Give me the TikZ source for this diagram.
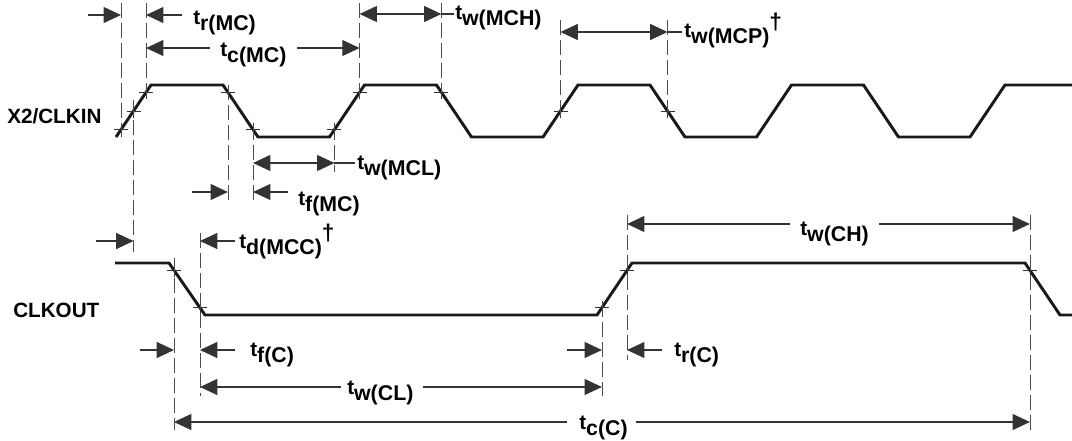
\documentclass[tikz,border=0pt]{standalone}
\usepackage{fontspec}
\setmainfont{Liberation Sans}
\usepackage{tikz}
\usetikzlibrary{arrows.meta,calc}

\newcommand{\tsub}[1]{t\lower5pt\hbox{\fontsize{16}{16}\selectfont #1}}
\newcommand{\dg}{\raisebox{5.5pt}{\fontsize{17}{17}\selectfont †}}

\tikzset{
  wave/.style={line width=2.2pt, black!90},
  guide/.style={line width=0.6pt, black!70, dash pattern=on 11pt off 4pt},
  tick/.style={line width=0.6pt, black!80},
  dimline/.style={line width=0.8pt, black!80},
  dimto/.style={dimline, {Triangle[length=13pt,width=12pt]}-},
  dimboth/.style={dimline, {Triangle[length=13pt,width=12pt]}-{Triangle[length=13pt,width=12pt]}},
  lbl/.style={font=\fontsize{15.5}{15.5}\selectfont\bfseries, inner sep=0pt, anchor=base west},
  sig/.style={font=\fontsize{15.5}{16}\selectfont\bfseries, inner sep=0pt, anchor=base west}
}

\begin{document}
\begin{tikzpicture}[x=0.75pt,y=-0.75pt]
\useasboundingbox (0,0) rectangle (1072,440);

% signals
\draw[wave] (116,137) \foreach \k in {0,1,2,3}{ -- ({151+213.5*\k},85) -- ({223+213.5*\k},85) -- ({258+213.5*\k},137) -- ({329.5+213.5*\k},137)} -- (1005,85) -- (1072,85);
\draw[wave] (115,263) -- (169,263) -- (205,315) -- (597,315) -- (632,263) -- (1025,263) -- (1060,315) -- (1072,315);
\node[sig] (clkin) at (7,123) {X2/CLKIN};
\node[sig] (clkout) at (13,317) {CLKOUT};

% reference points on the edges
\coordinate (r1a) at (120.9,129.7);
\coordinate (r1m) at (133.5,111);
\coordinate (r1b) at (146.1,92.3);
\coordinate (f1a) at (227.9,92.3);
\coordinate (f1b) at (253.1,129.7);
\coordinate (r2a) at (334.4,129.7);
\coordinate (r2b) at (359.6,92.3);
\coordinate (f2a) at (441.4,92.3);
\coordinate (r3m) at (560.5,111);
\coordinate (f3m) at (667.5,111);
\coordinate (c1a) at (174,270.3);
\coordinate (c1b) at (200,307.7);
\coordinate (c2a) at (601.9,307.7);
\coordinate (c2b) at (627.1,270.3);
\coordinate (c3a) at (1029.9,270.3);

\foreach \p in {r1a,r1m,r1b,f1a,f1b,r2a,r2b,f2a,r3m,f3m,c1a,c1b,c2a,c2b,c3a}
  \draw[tick] (\p) +(-7,0) -- +(7,0) +(0,-7) -- +(0,7);

\foreach \p/\a/\b in {r1a/3/136, r1m/100/252, r1b/3/97, f1a/85/200, f1b/125/205, r2a/125/172,
    r2b/3/97, f2a/3/97, r3m/20/117, f3m/20/117,
    c1a/258/430, c1b/233/396, c2a/302/396, c2b/215/360, c3a/215/430}
  \draw[guide] (\p |- 0,\a) -- (\p |- 0,\b);

% rows of the dimension lines
\coordinate (yA) at (0,15);
\coordinate (yB) at (0,48);
\coordinate (yC) at (0,14);
\coordinate (yD) at (0,32);
\coordinate (yE) at (0,163);
\coordinate (yF) at (0,192);
\coordinate (yG) at (0,241);
\coordinate (yH) at (0,224);
\coordinate (yI) at (0,350);
\coordinate (yJ) at (0,387);
\coordinate (yK) at (0,422);

% t_r(MC)
\draw[dimto] (r1a |- yA) -- ++(-33,0);
\draw[dimto] (r1b |- yA) -- ++(36,0);
\node[lbl] (trmc) at (193,24) {\tsub{r(MC)}};

% t_c(MC)
\node[lbl] (tcmc) at (220,56) {\tsub{c(MC)}};
\draw[dimto] (r1b |- yB) -- ($(tcmc.west |- yB)+(-10,0)$);
\draw[dimto] (r2b |- yB) -- ($(tcmc.east |- yB)+(10,0)$);

% t_w(MCH)
\node[lbl] (twmch) at (455,19) {\tsub{w(MCH)}};
\draw[dimboth] (r2b |- yC) -- (f2a |- yC);
\draw[dimline] (f2a |- yC) -- ($(twmch.west |- yC)+(-1,0)$);

% t_w(MCP)
\node[lbl] (twmcp) at (684,37) {\tsub{w(MCP)}\dg};
\draw[dimboth] (r3m |- yD) -- (f3m |- yD);
\draw[dimline] (f3m |- yD) -- ($(twmcp.west |- yD)+(-2,0)$);

% t_w(MCL)
\node[lbl] (twmcl) at (357,169) {\tsub{w(MCL)}};
\draw[dimboth] (f1b |- yE) -- (r2a |- yE);
\draw[dimline] (r2a |- yE) -- ($(twmcl.west |- yE)+(-2,0)$);

% t_f(MC)
\draw[dimto] (f1a |- yF) -- ++(-36,0);
\draw[dimto] (f1b |- yF) -- ++(35,0);
\node[lbl] (tfmc) at (298,205) {\tsub{f(MC)}};

% t_d(MCC)
\draw[dimto] (r1m |- yG) -- ++(-38,0);
\draw[dimto] (c1b |- yG) -- ++(35,0);
\node[lbl] (tdmcc) at (239,248) {\tsub{d(MCC)}\dg};

% t_w(CH)
\node[lbl] (twch) at (800,235) {\tsub{w(CH)}};
\draw[dimto] (c2b |- yH) -- ($(twch.west |- yH)+(-10,0)$);
\draw[dimto] (c3a |- yH) -- ($(twch.east |- yH)+(10,0)$);

% t_f(C)
\draw[dimto] (c1a |- yI) -- ++(-34,0);
\draw[dimto] (c1b |- yI) -- ++(35,0);
\node[lbl] (tfc) at (250,356) {\tsub{f(C)}};

% t_r(C)
\draw[dimto] (c2a |- yI) -- ++(-35,0);
\draw[dimto] (c2b |- yI) -- ++(35,0);
\node[lbl] (trc) at (674,356) {\tsub{r(C)}};

% t_w(CL)
\node[lbl] (twcl) at (347,394) {\tsub{w(CL)}};
\draw[dimto] (c1b |- yJ) -- ($(twcl.west |- yJ)+(-6,0)$);
\draw[dimto] (c2a |- yJ) -- ($(twcl.east |- yJ)+(9,0)$);

% t_c(C)
\node[lbl] (tcc) at (579,429) {\tsub{c(C)}};
\draw[dimto] (c1a |- yK) -- ($(tcc.west |- yK)+(-12,0)$);
\draw[dimto] (c3a |- yK) -- ($(tcc.east |- yK)+(8,0)$);
\end{tikzpicture}
\end{document}
